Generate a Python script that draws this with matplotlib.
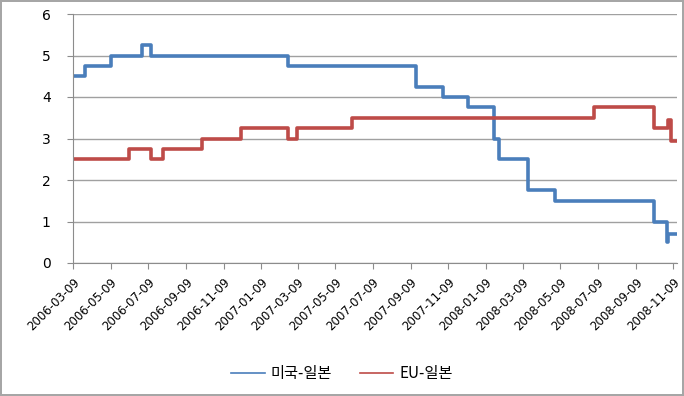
import pandas as pd
import numpy as np
import matplotlib.pyplot as plt

# rate differential change dates and levels (%)
us_dates = ['2006-03-09', '2006-03-28', '2006-05-10', '2006-06-29', '2006-07-14',
            '2007-02-21', '2007-09-18', '2007-10-31', '2007-12-11', '2008-01-22',
            '2008-01-30', '2008-03-18', '2008-04-30', '2008-10-08', '2008-10-29',
            '2008-10-31', '2008-11-14']
us_jp = [4.5, 4.75, 5.0, 5.25, 5.0, 4.75, 4.25, 4.0, 3.75, 3.0,
         2.5, 1.75, 1.5, 1.0, 0.5, 0.7, 0.7]

eu_dates = ['2006-03-09', '2006-06-08', '2006-07-14', '2006-08-03', '2006-10-05',
            '2006-12-07', '2007-02-21', '2007-03-08', '2007-06-06', '2008-07-03',
            '2008-10-08', '2008-10-31', '2008-11-06', '2008-11-14']
eu_jp = [2.5, 2.75, 2.5, 2.75, 3.0, 3.25, 3.0, 3.25, 3.5, 3.75,
         3.25, 3.45, 2.95, 2.95]

tick_labels = ['2006-03-09', '2006-05-09', '2006-07-09', '2006-09-09', '2006-11-09',
               '2007-01-09', '2007-03-09', '2007-05-09', '2007-07-09', '2007-09-09',
               '2007-11-09', '2008-01-09', '2008-03-09', '2008-05-09', '2008-07-09',
               '2008-09-09', '2008-11-09']

series_names = ['미국-일본', 'EU-일본']
blue = '#4a7ebb'
red = '#be4b48'

fig = plt.figure(figsize=(6.84, 3.96), dpi=100)
fig.patch.set_edgecolor('#a6a6a6')
fig.patch.set_linewidth(1.5)
ax = fig.add_axes([73 / 684, 133 / 396, 604 / 684, 249 / 396])

ax.step(pd.to_datetime(us_dates), us_jp, where='post', color=blue, lw=2.6, label=series_names[0])
ax.step(pd.to_datetime(eu_dates), eu_jp, where='post', color=red, lw=2.6, label=series_names[1])

ax.set_ylim(0, 6)
ax.set_yticks(np.arange(0, 7, 1))
ax.set_xlim(pd.Timestamp('2006-03-09'), pd.Timestamp('2008-11-15'))
ax.set_xticks(pd.to_datetime(tick_labels))
ax.set_xticklabels(tick_labels, rotation=45, ha='right', va='top', rotation_mode='anchor',
                   fontsize=8.5)

ax.grid(axis='y', color='#a0a0a0', lw=1)
ax.set_axisbelow(True)
for s in ['top', 'right']:
    ax.spines[s].set_visible(False)
for s in ['left', 'bottom']:
    ax.spines[s].set_color('#8c8c8c')
ax.tick_params(axis='both', colors='#8c8c8c', labelcolor='black', length=4)
ax.tick_params(axis='y', pad=12, labelsize=10)
ax.tick_params(axis='x', pad=5)

leg = fig.legend(loc='lower center', bbox_to_anchor=(0.5, 0.0), ncol=2, frameon=False,
                 handlelength=2.2, columnspacing=1.8, handletextpad=0.4,
                 prop={'family': ['Noto Sans CJK KR', 'DejaVu Sans'], 'size': 11})
for line in leg.get_lines():
    line.set_linewidth(1.2)

fig.savefig('out.png', dpi=100, edgecolor=fig.get_edgecolor())
